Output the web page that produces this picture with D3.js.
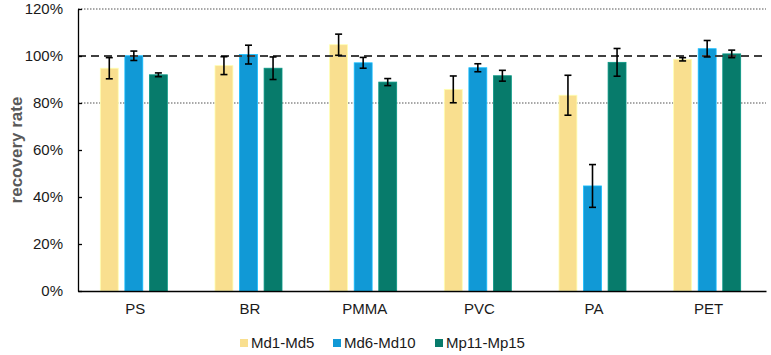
<!DOCTYPE html>
<html>
<head>
<meta charset="utf-8">
<script src="https://cdn.jsdelivr.net/npm/d3@7"></script>
<style>
  body { margin: 0; background: #fff; }
  svg { display: block; font-family: "Liberation Sans", Arial, sans-serif; }
</style>
</head>
<body>
<svg id="chart"></svg>
<script>
const categories = ["PS", "BR", "PMMA", "PVC", "PA", "PET"];
const seriesNames = ["Md1-Md5", "Md6-Md10", "Mp11-Mp15"];
const colors = ["#f9df8f", "#1199d6", "#077b6b"];

// mean recovery (%) per series
const md1Md5 = [94.8, 95.9, 104.8, 85.8, 83.3, 98.6];
const md6Md10 = [100.1, 100.6, 97.1, 95.0, 44.7, 103.1];
const mp11Mp15 = [92.0, 94.8, 88.9, 91.6, 97.3, 100.9];

// error (+/- %)
const md1Md5Err = [4.5, 3.8, 4.5, 5.7, 8.5, 0.7];
const md6Md10Err = [2.0, 4.0, 2.3, 1.7, 9.1, 3.5];
const mp11Mp15Err = [0.8, 4.8, 1.5, 2.3, 5.9, 1.6];

const yTicks = [0, 20, 40, 60, 80, 100, 120];

const width = 771, height = 355;
const margin = { top: 9, right: 5, bottom: 64, left: 78 };

const svg = d3.select("#chart")
  .attr("width", width)
  .attr("height", height);

const values = [md1Md5, md6Md10, mp11Mp15];
const errors = [md1Md5Err, md6Md10Err, mp11Mp15Err];

const x = d3.scaleBand()
  .domain(categories)
  .range([margin.left, width - margin.right]);

const xs = d3.scaleBand()
  .domain(seriesNames)
  .range([0, x.bandwidth()])
  .paddingInner(0.27)
  .paddingOuter(0.97);

const y = d3.scaleLinear()
  .domain([0, 120])
  .range([height - margin.bottom, margin.top]);

// dotted reference lines at 80% and 120%
svg.selectAll("line.grid")
  .data([80, 120])
  .join("line")
  .attr("class", "grid")
  .attr("x1", margin.left)
  .attr("x2", width - margin.right)
  .attr("y1", d => y(d))
  .attr("y2", d => y(d))
  .attr("stroke", "#8c8c8c")
  .attr("stroke-width", 1.5)
  .attr("stroke-dasharray", "1.5,1.5");

// bars
const groups = svg.selectAll("g.series")
  .data(seriesNames)
  .join("g")
  .attr("class", "series");

groups.selectAll("rect")
  .data((s, i) => categories.map((c, j) => ({ c, s, v: values[i][j], e: errors[i][j], i })))
  .join("rect")
  .attr("x", d => x(d.c) + xs(d.s) - 1.5)
  .attr("y", d => y(d.v))
  .attr("width", xs.bandwidth())
  .attr("height", d => y(0) - y(d.v))
  .attr("fill", d => colors[d.i])
  .attr("stroke", d => d3.color(colors[d.i]).brighter(0.6))
  .attr("stroke-width", 0.8);

// 100% dashed line
svg.append("line")
  .attr("x1", margin.left)
  .attr("x2", width - margin.right)
  .attr("y1", y(100))
  .attr("y2", y(100))
  .attr("stroke", "#404040")
  .attr("stroke-width", 2)
  .attr("stroke-dasharray", "8,5");

// error bars
const errData = [];
seriesNames.forEach((s, i) => categories.forEach((c, j) => {
  errData.push({ cx: x(c) + xs(s) - 1.5 + xs.bandwidth() / 2, v: values[i][j], e: errors[i][j] });
}));

const eb = svg.selectAll("g.err")
  .data(errData)
  .join("g")
  .attr("class", "err")
  .attr("stroke", "#000")
  .attr("stroke-width", 1.6);

eb.append("line")
  .attr("x1", d => d.cx).attr("x2", d => d.cx)
  .attr("y1", d => y(d.v + d.e)).attr("y2", d => y(d.v - d.e));
eb.append("line")
  .attr("x1", d => d.cx - 3.5).attr("x2", d => d.cx + 3.5)
  .attr("y1", d => y(d.v + d.e)).attr("y2", d => y(d.v + d.e));
eb.append("line")
  .attr("x1", d => d.cx - 3.5).attr("x2", d => d.cx + 3.5)
  .attr("y1", d => y(d.v - d.e)).attr("y2", d => y(d.v - d.e));

// y axis (ticks point inward)
const yAxis = svg.append("g")
  .attr("transform", `translate(${margin.left},0)`)
  .call(d3.axisLeft(y).tickValues(yTicks).tickSize(-4).tickSizeOuter(0).tickFormat(d => d + "%"));
yAxis.select(".domain").attr("stroke", "#000").attr("stroke-width", 1.3);
yAxis.selectAll(".tick line").attr("stroke", "#000").attr("stroke-width", 1.3);
yAxis.selectAll(".tick text")
  .attr("x", -15)
  .attr("fill", "#1a1a1a")
  .style("font-size", "15px")
  .style("font-family", "'Liberation Sans', Arial, sans-serif");

// x axis
const xAxis = svg.append("g")
  .attr("transform", `translate(0,${y(0)})`)
  .call(d3.axisBottom(x).tickSize(0).tickSizeOuter(0));
xAxis.select(".domain").attr("stroke", "#000").attr("stroke-width", 1.5);
xAxis.selectAll(".tick text")
  .attr("y", 12)
  .attr("fill", "#1a1a1a")
  .style("font-size", "15px")
  .style("font-family", "'Liberation Sans', Arial, sans-serif");

// y label
svg.append("text")
  .attr("transform", `translate(22,${(y(0) + y(120)) / 2}) rotate(-90)`)
  .attr("text-anchor", "middle")
  .attr("fill", "#595959")
  .style("font-size", "17px")
  .style("font-weight", "bold")
  .text("recovery rate");

// legend
const legendX = [240, 333, 435];
const legend = svg.selectAll("g.legend")
  .data(seriesNames)
  .join("g")
  .attr("class", "legend")
  .attr("transform", (d, i) => `translate(${legendX[i]},343)`);
legend.append("rect")
  .attr("x", 0).attr("y", -4)
  .attr("width", 8).attr("height", 8)
  .attr("fill", (d, i) => colors[i]);
legend.append("text")
  .attr("x", 11)
  .attr("y", 0)
  .attr("dy", "0.35em")
  .attr("fill", "#1a1a1a")
  .style("font-size", "15px")
  .text(d => d);
</script>
</body>
</html>
